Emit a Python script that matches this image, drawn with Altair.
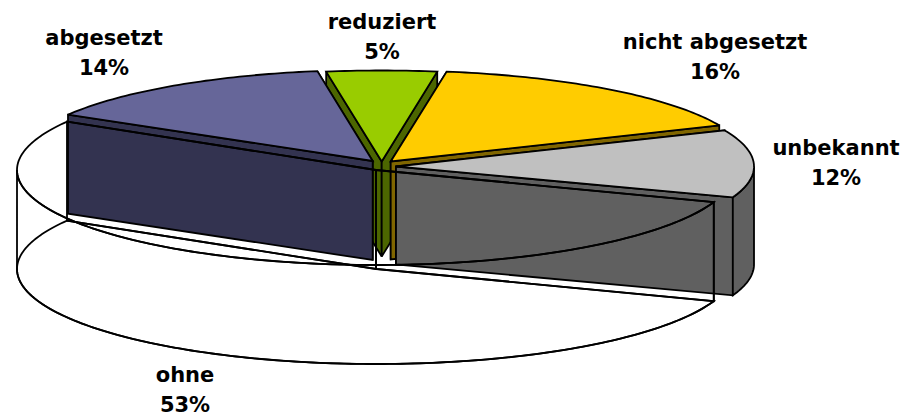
import math
import altair as alt

# ---- chart values ----
categories = ["reduziert", "nicht abgesetzt", "unbekannt", "ohne", "abgesetzt"]
shares = [5, 16, 12, 53, 14]
top_colors = ["#99CC00", "#FFCC00", "#C0C0C0", "transparent", "#666699"]
wall_colors = ["#4C6600", "#806600", "#606060", "transparent", "#333350"]

# ---- layout of the exploded 3-D pie (page pixels) ----
ORIGIN = 8
START_ANGLE = -9.0
# category: apex x, apex y, radius x, radius y, depth
explode = {
    "reduziert": (381.7, 161.5, 355, 91, 95),
    "nicht abgesetzt": (390.7, 161.5, 358, 91, 98),
    "unbekannt": (396, 166.5, 358, 91, 98),
    "ohne": (376, 170, 359, 95, 99),
    "abgesetzt": (372.7, 161, 354, 91, 99),
}
# category: centre x, first baseline y
label_pos = {
    "reduziert": (382, 29),
    "nicht abgesetzt": (715, 49),
    "unbekannt": (836, 155),
    "ohne": (185, 382),
    "abgesetzt": (104, 45),
}
paint_order = ["reduziert", "nicht abgesetzt", "abgesetzt", "unbekannt", "ohne"]


def rim(cat, deg, dz=0.0):
    cx, cy, a, b, _ = explode[cat]
    r = math.radians(deg)
    return [cx + a * math.sin(r) - ORIGIN, cy - b * math.cos(r) + dz - ORIGIN]


def apex(cat, dz=0.0):
    cx, cy, *_ = explode[cat]
    return [cx - ORIGIN, cy + dz - ORIGIN]


def arc(cat, t1, t2, dz=0.0):
    n = max(2, int(abs(t2 - t1)) + 1)
    return [rim(cat, t1 + (t2 - t1) * i / (n - 1), dz) for i in range(n)]


def feature(ring, fill):
    ring = ring + [ring[0]]
    return {
        "type": "Feature",
        "geometry": {"type": "Polygon", "coordinates": [ring]},
        "properties": {"fill": fill},
    }


# slice angles follow from the shares
angles = {}
t = START_ANGLE
for name, share in zip(categories, shares):
    angles[name] = (t, t + share * 3.6)
    t += share * 3.6

features = []
for name in paint_order:
    i = categories.index(name)
    t1, t2 = angles[name]
    d = explode[name][4]
    top, wall = top_colors[i], wall_colors[i]
    if name == "ohne":
        features.append(feature([apex(name, d)] + arc(name, t1, t2, d), wall))
    # the radial wall nearer the viewer is painted last
    for edge in sorted((t1, t2), key=lambda e: -math.cos(math.radians(e))):
        features.append(feature(
            [apex(name), rim(name, edge), rim(name, edge, d), apex(name, d)], wall))
    lo, hi = max(t1, 90.0), min(t2, 270.0)
    if lo < hi:
        features.append(feature(arc(name, lo, hi) + arc(name, hi, lo, d), wall))
    features.append(feature([apex(name)] + arc(name, t1, t2), top))

labels = [
    {
        "text": f"{name}\n{share}%",
        "x": label_pos[name][0] - ORIGIN,
        "y": label_pos[name][1] - ORIGIN,
    }
    for name, share in zip(categories, shares)
]

W, H = 893, 408
projection = alt.Projection(type="identity", scale=1, translate=[0, 0])

pie = (
    alt.Chart(alt.Data(values=features))
    .mark_geoshape(stroke="black", strokeWidth=1.8, strokeJoin="miter", strokeMiterLimit=3)
    .encode(fill=alt.Fill("properties.fill:N", scale=None))
    .project(**projection.to_dict())
)

text = (
    alt.Chart(alt.Data(values=labels))
    .mark_text(
        font="DejaVu Sans", fontWeight="bold", fontSize=21, align="center",
        baseline="alphabetic", lineBreak="\n", lineHeight=30, color="black",
    )
    .encode(
        x=alt.X("x:Q", scale=alt.Scale(domain=[0, W], range=[0, W]), axis=None),
        y=alt.Y("y:Q", scale=alt.Scale(domain=[0, H], range=[0, H]), axis=None),
        text="text:N",
    )
)

chart = (
    alt.layer(pie, text)
    .properties(width=W, height=H, padding=0, background="white")
    .configure_view(stroke=None)
)

chart.save("out.html", embed_options={"renderer": "svg", "actions": False})
